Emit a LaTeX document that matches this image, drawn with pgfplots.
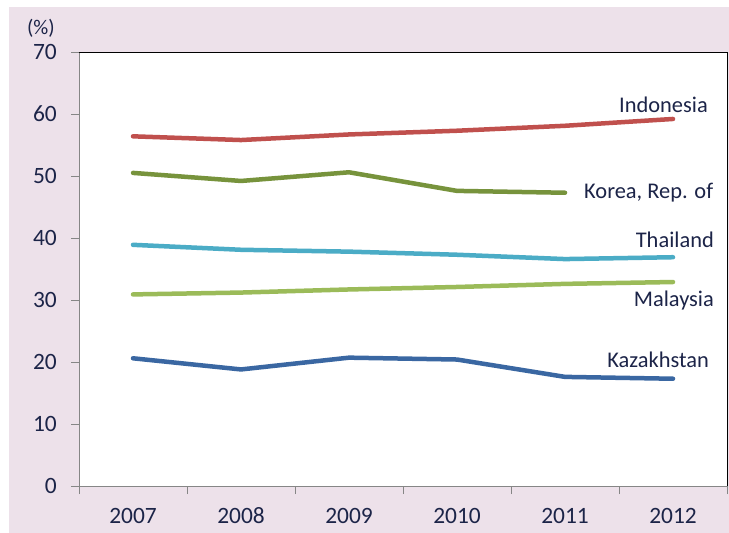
\documentclass[border=0pt]{standalone}
\usepackage{fontspec}
\setmainfont{Carlito}
\usepackage{pgfplots}
\pgfplotsset{compat=1.18}
\definecolor{BgC}{HTML}{EDE1EA}
\definecolor{TxtC}{HTML}{1C2448}
\definecolor{AxC}{HTML}{868686}
\definecolor{IdnC}{HTML}{C0504D}
\definecolor{KorC}{HTML}{77933C}
\definecolor{ThaC}{HTML}{4BACC6}
\definecolor{MysC}{HTML}{9BBB59}
\definecolor{KazC}{HTML}{3A67A2}
\newcommand{\lbl}{\fontsize{22.5}{26}\selectfont}
\newcommand{\tck}{\fontsize{23.5}{27}\selectfont}

\begin{document}
\begin{tikzpicture}
% page and panel background, in bp from the plot's lower left corner
\fill[white] (-79bp,-47bp) rectangle (650bp,486bp);
\fill[BgC] (-70bp,-47bp) rectangle (650bp,479bp);
\begin{axis}[
  scale only axis, width=648bp, height=434bp,
  xmin=2006.5, xmax=2012.5, ymin=0, ymax=70,
  axis x line*=bottom, axis y line*=left,
  axis line style={draw=AxC,line width=.8pt,-},
  axis background/.style={fill=white},
  xtick={2007,2008,2009,2010,2011,2012},
  xticklabels={2007,2008,2009,2010,2011,2012},
  major x tick style={draw=none},
  minor xtick={2006.5,2007.5,2008.5,2009.5,2010.5,2011.5,2012.5},
  ytick={0,10,20,30,40,50,60,70},
  /pgf/number format/assume math mode=true,
  tick align=outside, major tick length=8bp, minor tick length=8bp,
  tick style={draw=AxC,line width=.8pt},
  tick label style={font=\tck,text=TxtC,inner sep=0pt},
  yticklabel style={anchor=east,xshift=-14bp},
  xticklabel style={anchor=base,yshift=-29bp},
  clip=false,
  every axis plot/.append style={line width=4.5bp,line cap=round,line join=round,no marks}]

\addplot[color=IdnC] coordinates {
  (2007,56.4) (2008,55.8) (2009,56.7) (2010,57.3) (2011,58.1) (2012,59.2)};
\addplot[color=KorC] coordinates {
  (2007,50.5) (2008,49.2) (2009,50.6) (2010,47.6) (2011,47.3)};
\addplot[color=ThaC] coordinates {
  (2007,38.9) (2008,38.1) (2009,37.8) (2010,37.3) (2011,36.6) (2012,36.9)};
\addplot[color=MysC] coordinates {
  (2007,30.9) (2008,31.2) (2009,31.7) (2010,32.1) (2011,32.6) (2012,32.9)};
\addplot[color=KazC] coordinates {
  (2007,20.6) (2008,18.8) (2009,20.7) (2010,20.4) (2011,17.6) (2012,17.3)};

\draw[black,line width=.8pt] (rel axis cs:0,1) -- (rel axis cs:1,1) -- (rel axis cs:1,0);

\node[font=\lbl,text=TxtC,anchor=base east,inner sep=0pt] at (axis cs:2012.324,60.3) {Indonesia};
\node[font=\lbl,text=TxtC,anchor=base west,inner sep=0pt] at (axis cs:2011.176,46.45) {Korea, Rep. of};
\node[font=\lbl,text=TxtC,anchor=base east,inner sep=0pt] at (axis cs:2012.38,38.39) {Thailand};
\node[font=\lbl,text=TxtC,anchor=base east,inner sep=0pt] at (axis cs:2012.38,29.03) {Malaysia};
\node[font=\lbl,text=TxtC,anchor=base east,inner sep=0pt] at (axis cs:2012.333,19.19) {Kazakhstan};
\node[font=\fontsize{21}{24}\selectfont,text=TxtC,anchor=base,inner sep=0pt] at (axis cs:2006.148,72.9) {(\%)};
\end{axis}
\end{tikzpicture}
\end{document}
